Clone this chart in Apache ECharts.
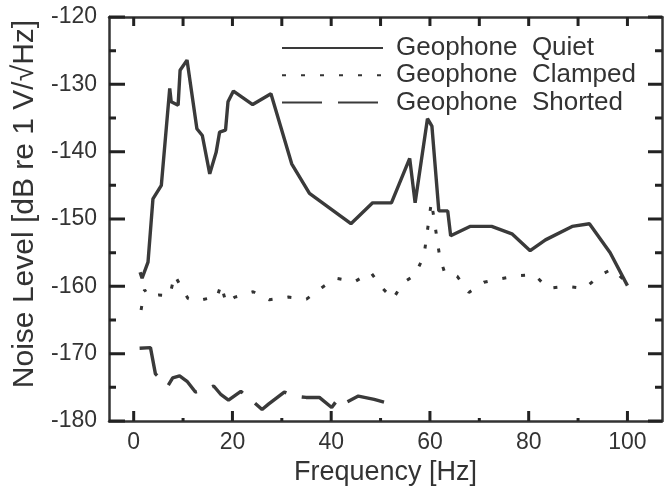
<!DOCTYPE html>
<html><head><meta charset="utf-8">
<script src="https://cdn.jsdelivr.net/npm/echarts@6/dist/echarts.min.js"></script>
<style>html,body{margin:0;padding:0;background:#fff}#c{width:670px;height:494px}</style>
</head><body><div id="c"></div>
<script>
// Frequency [Hz], noise level [dB re 1 V/sqrt(Hz)]
const quietData = [[1.3,-157.9],[1.7,-158.8],[2.9,-156.4],[3.9,-147.0],[5.6,-145.0],[7.3,-130.6],[7.6,-132.6],[9.0,-133.1],[9.4,-127.9],[10.8,-126.4],[12.8,-136.6],[13.9,-137.6],[15.4,-143.3],[16.7,-140.1],[17.4,-137.1],[18.6,-136.8],[19.1,-132.6],[20.2,-131.0],[24.1,-133.0],[27.8,-131.4],[29.3,-135.1],[32.0,-141.8],[35.6,-146.2],[44.0,-150.7],[48.4,-147.6],[52.2,-147.6],[55.9,-141.0],[57.0,-147.6],[59.5,-135.1],[60.4,-136.2],[61.8,-148.8],[63.6,-148.8],[64.2,-152.5],[68.1,-151.1],[72.5,-151.1],[76.6,-152.2],[80.3,-154.7],[83.4,-153.1],[88.8,-151.1],[92.3,-150.7],[96.5,-155.0],[100.0,-159.9]];
const clampedData = [[1.5,-163.5],[2.2,-160.5],[3.0,-161.5],[5.0,-161.3],[7.3,-161.4],[8.3,-158.3],[9.3,-159.7],[11.0,-161.8],[12.5,-162.2],[15.0,-161.8],[16.8,-161.8],[17.7,-159.7],[18.7,-162.5],[20.5,-161.6],[24.2,-160.8],[27.5,-162.0],[31.3,-161.6],[35.0,-161.9],[38.1,-160.2],[40.9,-158.8],[44.8,-159.3],[48.0,-157.9],[50.3,-160.2],[52.5,-161.9],[54.5,-159.5],[57.0,-158.3],[58.8,-155.4],[60.3,-147.4],[62.0,-155.7],[63.0,-158.0],[65.5,-158.5],[67.9,-160.9],[70.9,-159.4],[74.1,-158.9],[78.0,-158.4],[81.2,-158.3],[83.9,-160.3],[87.7,-160.0],[91.4,-160.3],[94.3,-158.4],[97.0,-157.4],[100.0,-159.6]];
const shortedData = [[1.2,-169.2],[3.4,-169.1],[4.4,-173.0],[6.9,-174.8],[7.9,-173.6],[9.3,-173.3],[10.8,-174.1],[12.5,-175.7],[14.7,-175.3],[16.2,-174.8],[17.7,-176.1],[19.2,-176.9],[21.7,-175.6],[23.7,-176.8],[26.0,-178.3],[27.3,-177.5],[30.5,-175.7],[32.5,-176.3],[34.9,-176.5],[37.6,-176.5],[40.1,-178.0],[41.6,-176.5],[43.1,-177.2],[45.5,-176.3],[48.7,-176.8],[50.7,-177.2]];
const seriesNames = ['Geophone  Quiet','Geophone  Clamped','Geophone  Shorted'];
const xLabelTicks = [0,20,40,60,80,100];
const xMajorTicks = [0,20,40,60,80,100];
const xMinorTicks = [10,30,50,70,90];
const yMajorTicks = [-180,-170,-160,-150,-140,-130,-120];
const yMinorTicks = [-175,-165,-155,-145,-135,-125];
const xTitle = 'Frequency [Hz]';
const yTitle = 'Noise Level [dB re 1 V/\u221AHz]';

const FONT = '"Liberation Sans", Arial, Helvetica, sans-serif';
const INK = '#333';
const X_MIN = -5, X_MAX = 107, Y_MIN = -180, Y_MAX = -120;
const GRID = {left: 109, right: 8, top: 17, bottom: 73};
const W = 670, H = 494;

const chart = echarts.init(document.getElementById('c'), null, {renderer: 'canvas'});

// tick marks as short broken polylines; pixel lengths turned into data units with the plot size
const pxPerX = (W - GRID.left - GRID.right) / (X_MAX - X_MIN);
const pxPerY = (H - GRID.top - GRID.bottom) / (Y_MAX - Y_MIN);
const tickPath = [];
function seg(a, b) { tickPath.push(a, b, ['-', '-']); }
xMajorTicks.forEach(v => {
  seg([v, Y_MIN], [v, Y_MIN + 10 / pxPerY]);
  seg([v, Y_MAX], [v, Y_MAX - 9 / pxPerY]);
});
xMinorTicks.forEach(v => {
  seg([v, Y_MIN], [v, Y_MIN + 3 / pxPerY]);
  seg([v, Y_MAX], [v, Y_MAX - 9 / pxPerY]);
});
yMajorTicks.forEach(v => {
  seg([X_MIN, v], [X_MIN + 16 / pxPerX, v]);
  seg([X_MAX, v], [X_MAX - 14 / pxPerX, v]);
});
yMinorTicks.forEach(v => {
  seg([X_MIN, v], [X_MIN + 7 / pxPerX, v]);
  seg([X_MAX, v], [X_MAX - 7 / pxPerX, v]);
});

chart.setOption({
  backgroundColor: '#fff',
  animation: false,
  grid: Object.assign({containLabel: false, outerBoundsMode: 'none'}, GRID),
  legend: {
    orient: 'vertical', left: 281, top: 35, padding: 0,
    itemWidth: 101, itemHeight: 14, itemGap: 1.2,
    data: seriesNames,
    itemStyle: {opacity: 0, borderWidth: 0},
    textStyle: {fontFamily: FONT, fontSize: 26, color: INK, lineHeight: 26, padding: [0,0,0,8]}
  },
  xAxis: [
    {type: 'value', min: X_MIN, max: X_MAX, position: 'bottom', splitLine: {show: false},
      axisLine: {show: true, onZero: false, lineStyle: {color: INK, width: 2.5}}, axisTick: {show: false},
      axisLabel: {show: true, customValues: xLabelTicks, margin: 10, fontFamily: FONT, fontSize: 23, color: INK},
      name: xTitle, nameLocation: 'middle', nameGap: 34,
      nameTextStyle: {fontFamily: FONT, fontSize: 27, color: INK}},
    {type: 'value', min: X_MIN, max: X_MAX, position: 'top', splitLine: {show: false},
      axisLine: {show: true, onZero: false, lineStyle: {color: INK, width: 2.5}}, axisTick: {show: false}, axisLabel: {show: false}}
  ],
  yAxis: [
    {type: 'value', min: Y_MIN, max: Y_MAX, position: 'left', splitLine: {show: false},
      axisLine: {show: true, onZero: false, lineStyle: {color: INK, width: 2.5}}, axisTick: {show: false},
      axisLabel: {show: true, customValues: yMajorTicks, margin: 12, fontFamily: FONT, fontSize: 23, color: INK},
      name: yTitle, nameLocation: 'middle', nameGap: 68,
      nameTextStyle: {fontFamily: FONT, fontSize: 30, color: INK, padding: [0, 0, 0, 30]}},
    {type: 'value', min: Y_MIN, max: Y_MAX, position: 'right', splitLine: {show: false},
      axisLine: {show: true, onZero: false, lineStyle: {color: INK, width: 2.5}}, axisTick: {show: false}, axisLabel: {show: false}}
  ],
  series: [
    {name: seriesNames[0], type: 'line', data: quietData, showSymbol: false, symbol: 'none',
      lineStyle: {color: '#3a3a3a', width: 3.4, type: 'solid'}, itemStyle: {color: '#3a3a3a'}},
    {name: seriesNames[1], type: 'line', data: clampedData, showSymbol: false, symbol: 'none',
      lineStyle: {color: '#333', width: 3, type: [4, 15]}, itemStyle: {color: '#333'}},
    {name: seriesNames[2], type: 'line', data: shortedData, showSymbol: false, symbol: 'none',
      lineStyle: {color: '#3a3a3a', width: 3.4, type: [40, 16]}, itemStyle: {color: '#3a3a3a'}},
    {name: 'ticks', type: 'line', data: tickPath, showSymbol: false, symbol: 'none',
      connectNulls: false, clip: false, silent: true, z: 10,
      lineStyle: {color: '#222', width: 3, type: 'solid'}, itemStyle: {color: '#222'}}
  ]
});
</script></body></html>
